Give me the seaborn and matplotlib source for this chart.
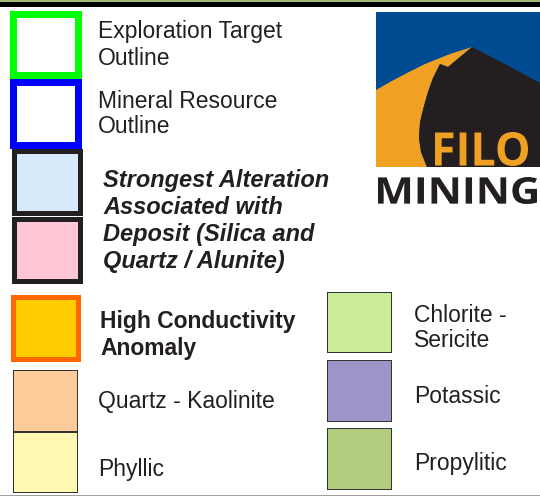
import matplotlib
matplotlib.use("Agg")
import matplotlib.pyplot as plt
from matplotlib.patches import Rectangle, Polygon, PathPatch
from matplotlib.textpath import TextPath
from matplotlib.font_manager import FontProperties
from matplotlib.transforms import Affine2D
import seaborn as sns

# legend entries: label, fill colour, outline colour, text style
labels = [
    "Exploration Target\nOutline",
    "Mineral Resource\nOutline",
    "Strongest Alteration\nAssociated with\nDeposit (Silica and\nQuartz / Alunite)",
    "High Conductivity\nAnomaly",
    "Quartz - Kaolinite",
    "Phyllic",
    "Chlorite -\nSericite",
    "Potassic",
    "Propylitic",
]
fills = ["#ffffff", "#ffffff", "#d6eafc", "#ffc6d5", "#ffcc00",
         "#fecc9a", "#fff8b2", "#ccec9a", "#9c95c8", "#b2cc80"]
edges = ["#00ff00", "#0000ff", "#231f20", "#231f20", "#ff6600",
         "#333333", "#333333", "#333333", "#333333", "#333333"]
text_styles = ["normal", "normal", "bolditalic", "bold", "normal",
               "normal", "normal", "normal", "normal"]

# swatch boxes in pixels: x0, y0, x1, y1, border width
boxes = [
    (10, 11, 82, 79, 7),
    (10, 79, 82, 149, 7),
    (12, 149, 83, 216, 5),
    (12, 217, 83, 284, 5),
    (11, 295, 81, 362, 5),
    (13, 370, 78, 432, 1.3),
    (13, 432, 78, 493, 1.3),
    (327, 292, 392, 353, 1.3),
    (327, 360, 392, 422, 1.3),
    (327, 428, 392, 490, 1.3),
]
# text anchors: x, first baseline, line step
text_pos = [
    (98, 38, 27), (98, 108, 25), (103, 187, 27), (100, 328, 27),
    (98, 408, 27), (98, 476, 27), (414, 322, 25), (414, 403, 25),
    (414, 470, 25),
]

sns.set_style("white")
plt.rcParams["font.family"] = ["Liberation Sans", "DejaVu Sans"]

fig = plt.figure(figsize=(5.4, 4.97), dpi=100)
ax = fig.add_axes([0, 0, 1, 1])
ax.set_xlim(0, 540)
ax.set_ylim(497, 0)
ax.axis("off")

# top frame strip and bottom rule
ax.add_patch(Rectangle((0, 0), 540, 2, color="#a2b872", lw=0))
ax.add_patch(Rectangle((0, 2), 540, 5, color="#000000", lw=0))
ax.add_patch(Rectangle((0, 494.5), 540, 1.2, color="#a0a0a0", lw=0))

for (x0, y0, x1, y1, b), fc, ec in zip(boxes, fills, edges):
    ax.add_patch(Rectangle((x0, y0), x1 - x0, y1 - y0, color=ec, lw=0))
    ax.add_patch(Rectangle((x0 + b, y0 + b), x1 - x0 - 2 * b, y1 - y0 - 2 * b,
                           color=fc, lw=0))

for lab, st, (x, y, step) in zip(labels, text_styles, text_pos):
    weight = "bold" if "bold" in st else "normal"
    style = "italic" if "italic" in st else "normal"
    size = 17 if st == "bolditalic" else 16.5
    for i, line in enumerate(lab.split("\n")):
        ax.text(x, y + i * step, line, fontsize=size, color="#231f20",
                weight=weight, style=style, va="baseline", ha="left")

# logo
ax.add_patch(Rectangle((376, 12), 164, 155, color="#004b91", lw=0))
orange = [(376, 90), (390, 82), (405, 74), (425, 64), (450, 54), (472, 47),
          (448, 67), (440, 64), (433, 78), (428, 92), (424, 106), (420, 122),
          (419, 138), (421, 152), (427, 167), (376, 167)]
black = [(472, 47), (505, 64), (540, 83), (540, 167), (427, 167),
         (421, 152), (419, 138), (420, 122), (424, 106), (428, 92),
         (433, 78), (440, 64), (448, 67)]
ax.add_patch(Polygon(orange, closed=True, color="#f0a124", lw=0))
ax.add_patch(Polygon(black, closed=True, color="#231f20", lw=0))


def fit_word(word, box, color, weight):
    fp = FontProperties(family=["Open Sans", "DejaVu Sans"], weight=weight)
    tp = TextPath((0, 0), word, size=10, prop=fp)
    ext = tp.get_extents()
    x0, y0, x1, y1 = box
    tr = (Affine2D().translate(-ext.x0, -ext.y0)
          .scale((x1 - x0) / ext.width, -(y1 - y0) / ext.height)
          .translate(x0, y1))
    ax.add_patch(PathPatch(tr.transform_path(tp), color=color, lw=0))


fit_word("FILO", (435, 132, 528, 166), "#f0a124", "bold")
fit_word("MINING", (378, 177, 537, 204), "#231f20", "bold")

fig.savefig("out.png", dpi=100, facecolor="white")
